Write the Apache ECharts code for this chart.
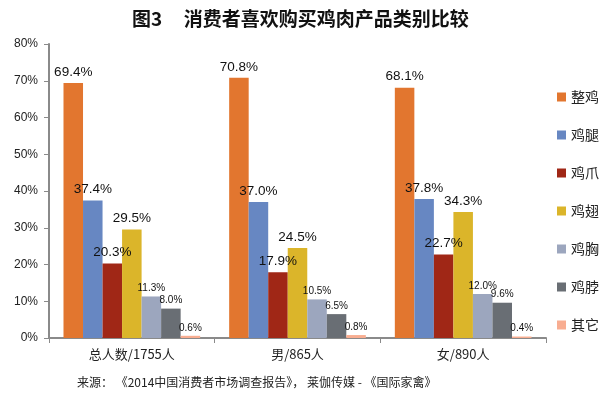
<!DOCTYPE html>
<html><head><meta charset="utf-8">
<script src="https://cdn.jsdelivr.net/npm/echarts@6/dist/echarts.min.js"></script>
<style>html,body{margin:0;padding:0;background:#fff}#c{width:604px;height:396px}</style>
</head><body><div id="c"></div>
<script>
const categories = ['总人数/1755人', '男/865人', '女/890人'];
const seriesNames = ['整鸡', '鸡腿', '鸡爪', '鸡翅', '鸡胸', '鸡脖', '其它'];
const wholeChicken = [69.4, 70.8, 68.1];
const legs = [37.4, 37.0, 37.8];
const feet = [20.3, 17.9, 22.7];
const wings = [29.5, 24.5, 34.3];
const breast = [11.3, 10.5, 12.0];
const neck = [8.0, 6.5, 9.6];
const other = [0.6, 0.8, 0.4];
const yTicks = [0, 10, 20, 30, 40, 50, 60, 70, 80];

const values = [wholeChicken, legs, feet, wings, breast, neck, other];
const colors = ['#E2762F', '#6787C2', '#A02716', '#DBB52A', '#9CA6BE', '#696E74', '#F8AD91'];
const bigLabel = [true, true, true, true, false, false, false];

const chart = echarts.init(document.getElementById('c'));
chart.setOption({
  animation: false,
  title: {
    text: '图3     消费者喜欢购买鸡肉产品类别比较',
    left: 127, top: 4,
    textStyle: { fontFamily: 'Noto Sans CJK SC', fontWeight: 'bold', fontSize: 19, color: '#111' }
  },
  grid: { left: 49, right: 58, top: 44, bottom: 58 },
  legend: {
    orient: 'vertical', left: 552, top: 85,
    itemWidth: 9, itemHeight: 9, itemGap: 24,
    icon: 'rect',
    data: seriesNames,
    textStyle: { fontFamily: 'Noto Sans CJK SC', fontSize: 14, color: '#222' }
  },
  xAxis: {
    type: 'category', data: categories,
    axisLine: { lineStyle: { color: '#8a8a8a', width: 2 } },
    axisTick: { show: true, length: 5, lineStyle: { color: '#8a8a8a', width: 1 } },
    axisLabel: { fontFamily: 'Noto Sans CJK SC', fontSize: 13, color: '#222', margin: 10 }
  },
  yAxis: {
    type: 'value', min: 0, max: 80, interval: 10,
    axisLine: { show: true, lineStyle: { color: '#8a8a8a', width: 2 } },
    axisTick: { show: true, length: 5, lineStyle: { color: '#8a8a8a' } },
    splitLine: { show: false },
    axisLabel: { formatter: v => yTicks.includes(v) ? v + '%' : '', fontFamily: 'Liberation Sans', fontSize: 12, color: '#222', margin: 11 }
  },
  graphic: [{
    type: 'text', left: 77, top: 376,
    style: { text: '来源： 《2014中国消费者市场调查报告》， 莱伽传媒 - 《国际家禽》', fontFamily: 'Noto Sans CJK SC', fontSize: 12, fill: '#222' }
  }],
  series: seriesNames.map((name, i) => ({
    name, type: 'bar', data: values[i],
    barGap: 0, barCategoryGap: '17.5%',
    itemStyle: { color: colors[i] },
    label: {
      show: true, position: 'top', distance: bigLabel[i] ? 4 : 3,
      formatter: p => p.value.toFixed(1) + '%',
      fontFamily: 'Liberation Sans', fontSize: bigLabel[i] ? 13.5 : 10, color: '#111'
    }
  }))
});
</script></body></html>
